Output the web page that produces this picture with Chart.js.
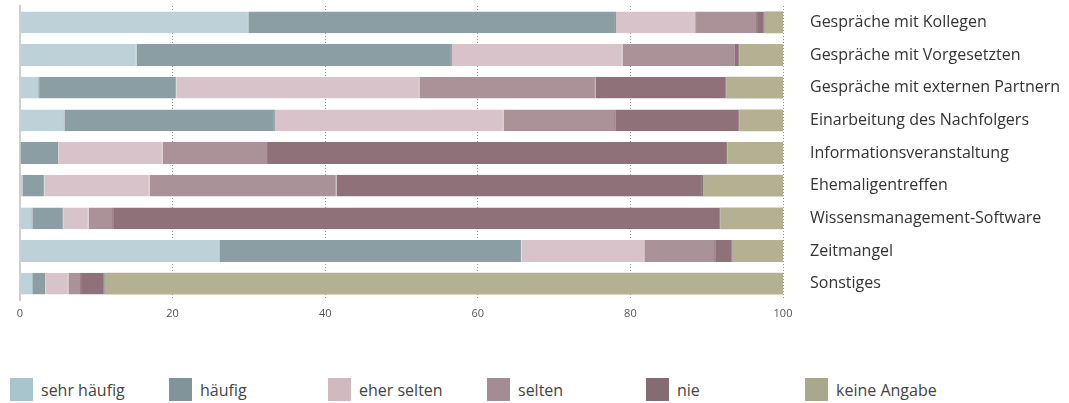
<!DOCTYPE html>
<html lang="de">
<head>
<meta charset="utf-8">
<script src="https://cdn.jsdelivr.net/npm/chart.js@4/dist/chart.umd.min.js"></script>
<style>
  html, body { margin: 0; padding: 0; background: #fff; }
  body { width: 1069px; height: 403px; overflow: hidden; position: relative; font-family: "Open Sans", sans-serif; }
  #wrap { position: absolute; left: 0; top: 0; width: 1069px; height: 322px; }
  #legend { position: absolute; left: 10px; top: 378px; display: flex; }
  .item { width: 159px; display: flex; align-items: center; height: 23px; }
  .box { width: 23px; height: 23px; margin-right: 8px; }
  .item span { font-size: 16px; color: #444; }
</style>
</head>
<body>
<div id="wrap"><canvas id="chart"></canvas></div>
<div id="legend"></div>
<script>
// categories (top to bottom)
const categories = [
  "Gespräche mit Kollegen",
  "Gespräche mit Vorgesetzten",
  "Gespräche mit externen Partnern",
  "Einarbeitung des Nachfolgers",
  "Informationsveranstaltung",
  "Ehemaligentreffen",
  "Wissensmanagement-Software",
  "Zeitmangel",
  "Sonstiges"
]

const seriesNames = ["sehr häufig", "häufig", "eher selten", "selten", "nie", "keine Angabe"]

// percentages per series, one value per category
const sehrHaeufig = [30.0, 15.3, 2.5, 5.8, 0.0, 0.3, 1.6, 26.2, 1.7]
const haeufig     = [48.1, 41.3, 18.0, 27.6, 5.0, 2.9, 4.1, 39.5, 1.6]
const eherSelten  = [10.5, 22.4, 31.9, 30.0, 13.7, 13.8, 3.3, 16.2, 3.1]
const selten      = [8.0, 14.6, 23.0, 14.6, 13.8, 24.5, 3.2, 9.2, 1.6]
const nie         = [1.0, 0.7, 17.2, 16.3, 60.2, 48.0, 79.6, 2.3, 3.1]
const keineAngabe = [2.4, 5.7, 7.4, 5.7, 7.3, 10.5, 8.2, 6.6, 88.9]

const xTicks = [0, 20, 40, 60, 80, 100]

const barColors    = ["#bcd2d8", "#8b9ea3", "#d8c3ca", "#aa9298", "#8f7279", "#b4b193"]
const edgeColors   = ["#a3bcc3", "#71868b", "#c2aab1", "#93797f", "#6c535a", "#9c9978"]
const legendColors = ["#a8c5cd", "#809599", "#d0b9bf", "#a38c93", "#856c73", "#a8a98c"]

const allSeries = [sehrHaeufig, haeufig, eherSelten, selten, nie, keineAngabe]

// solid line at zero
const zeroLinePlugin = {
  id: "zeroLine",
  beforeDatasetsDraw(chart) {
    const { ctx, chartArea, scales } = chart
    const x = scales.x.getPixelForValue(0)
    ctx.save()
    ctx.strokeStyle = "#cfcfcf"
    ctx.lineWidth = 2
    ctx.beginPath()
    ctx.moveTo(x, chartArea.top - 1)
    ctx.lineTo(x, chartArea.bottom + 1)
    ctx.stroke()
    ctx.restore()
  },
}

const ctx = document.getElementById("chart")
new Chart(ctx, {
  type: "bar",
  data: {
    labels: categories,
    datasets: allSeries.map((values, i) => ({
      label: seriesNames[i],
      data: values,
      backgroundColor: barColors[i],
      borderColor: edgeColors[i],
      borderWidth: { left: 0, top: 0, bottom: 0, right: i === 5 ? 0 : 1 },
      borderSkipped: false,
      categoryPercentage: 1,
      barPercentage: 0.67,
    })),
  },
  options: {
    indexAxis: "y",
    responsive: true,
    maintainAspectRatio: false,
    animation: false,
    layout: { padding: { left: 20, top: 6, right: 0, bottom: 0 } },
    plugins: {
      legend: { display: false },
      tooltip: { enabled: false },
    },
    scales: {
      x: {
        stacked: true,
        min: 0,
        max: 100,
        z: 1,
        afterBuildTicks: (scale) => {
          scale.ticks = xTicks.map((v) => ({ value: v }))
        },
        afterFit: (scale) => {
          scale.height = 22
        },
        grid: {
          color: (c) => (c.tick && c.tick.value === 0 ? "rgba(0,0,0,0)" : "rgba(110,110,110,0.75)"),
          lineWidth: 1,
          drawTicks: false,
        },
        border: { display: false, dash: [1, 2] },
        ticks: {
          padding: 7,
          color: "#555",
          font: { family: "Open Sans", size: 11 },
        },
      },
      y: {
        stacked: true,
        position: "right",
        afterFit: (scale) => {
          scale.width = 1069 - 783
          scale.paddingTop = 0
          scale.paddingBottom = 0
        },
        grid: { display: false, drawTicks: false },
        border: { display: false },
        ticks: {
          padding: 27,
          color: "#333",
          font: { family: "Open Sans", size: 16 },
        },
      },
    },
  },
  plugins: [zeroLinePlugin],
})

// legend
const legend = document.getElementById("legend")
seriesNames.forEach((name, i) => {
  const item = document.createElement("div")
  item.className = "item"
  item.innerHTML = `<div class="box" style="background:${legendColors[i]}"></div><span>${name}</span>`
  legend.appendChild(item)
})
</script>
</body>
</html>
